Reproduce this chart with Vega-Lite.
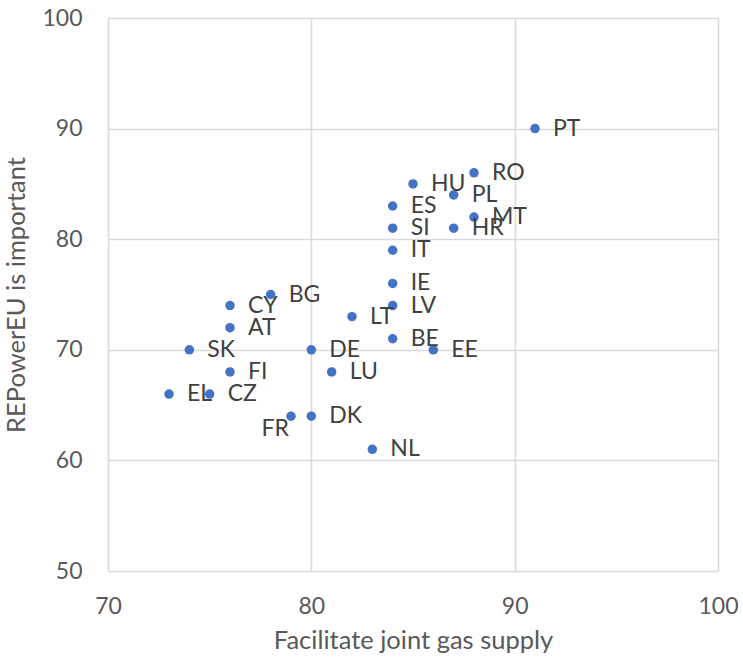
{
  "$schema": "https://vega.github.io/schema/vega-lite/v6.json",
  "width": 610,
  "height": 553,
  "autosize": {"type": "none"},
  "padding": {"left": 108, "top": 18, "right": 25, "bottom": 95},
  "background": "white",
  "config": {
    "view": {"stroke": null},
    "font": "Lato"
  },
  "data": {
    "values": [
      {"country": "PT", "gas": 91, "rep": 90},
      {"country": "RO", "gas": 88, "rep": 86},
      {"country": "HU", "gas": 85, "rep": 85},
      {"country": "PL", "gas": 87, "rep": 84},
      {"country": "ES", "gas": 84, "rep": 83},
      {"country": "MT", "gas": 88, "rep": 82},
      {"country": "SI", "gas": 84, "rep": 81},
      {"country": "HR", "gas": 87, "rep": 81},
      {"country": "IT", "gas": 84, "rep": 79},
      {"country": "IE", "gas": 84, "rep": 76},
      {"country": "BG", "gas": 78, "rep": 75},
      {"country": "CY", "gas": 76, "rep": 74},
      {"country": "LV", "gas": 84, "rep": 74},
      {"country": "LT", "gas": 82, "rep": 73},
      {"country": "AT", "gas": 76, "rep": 72},
      {"country": "BE", "gas": 84, "rep": 71},
      {"country": "SK", "gas": 74, "rep": 70},
      {"country": "DE", "gas": 80, "rep": 70},
      {"country": "EE", "gas": 86, "rep": 70},
      {"country": "FI", "gas": 76, "rep": 68},
      {"country": "LU", "gas": 81, "rep": 68},
      {"country": "EL", "gas": 73, "rep": 66},
      {"country": "CZ", "gas": 75, "rep": 66},
      {"country": "FR", "gas": 79, "rep": 64},
      {"country": "DK", "gas": 80, "rep": 64},
      {"country": "NL", "gas": 83, "rep": 61}
    ]
  },
  "encoding": {
    "x": {
      "field": "gas", "type": "quantitative",
      "scale": {"domain": [70, 100], "nice": false, "zero": false},
      "axis": {
        "title": "Facilitate joint gas supply",
        "values": [70, 80, 90, 100],
        "domain": false, "ticks": false, "labelFlush": false,
        "grid": true, "gridColor": "#d9d9d9", "gridWidth": 1.5,
        "labelFontSize": 23, "labelColor": "#595959", "labelPadding": 24,
        "labelFont": "Lato",
        "titleFontSize": 25.5, "titleColor": "#595959", "titleFontWeight": "normal",
        "titleFont": "Lato", "titlePadding": 10
      }
    },
    "y": {
      "field": "rep", "type": "quantitative",
      "scale": {"domain": [50, 100], "nice": false, "zero": false},
      "axis": {
        "title": "REPowerEU is important",
        "values": [50, 60, 70, 80, 90, 100],
        "domain": false, "ticks": false, "labelFlush": false,
        "grid": true, "gridColor": "#d9d9d9", "gridWidth": 1.5,
        "labelFontSize": 23, "labelColor": "#595959", "labelPadding": 26,
        "labelFont": "Lato",
        "titleFontSize": 25.5, "titleColor": "#595959", "titleFontWeight": "normal",
        "titleFont": "Lato", "titlePadding": 12
      }
    }
  },
  "layer": [
    {
      "mark": {"type": "circle", "size": 90, "color": "#4472C4", "opacity": 1}
    },
    {
      "transform": [{"filter": "datum.country !== 'FR'"}],
      "mark": {"type": "text", "align": "left", "baseline": "middle", "dx": 18, "fontSize": 23, "color": "#404040", "font": "Lato"},
      "encoding": {"text": {"field": "country"}}
    },
    {
      "transform": [{"filter": "datum.country === 'FR'"}],
      "mark": {"type": "text", "align": "right", "baseline": "middle", "dx": -2, "dy": 13, "fontSize": 23, "color": "#404040", "font": "Lato"},
      "encoding": {"text": {"field": "country"}}
    }
  ]
}
